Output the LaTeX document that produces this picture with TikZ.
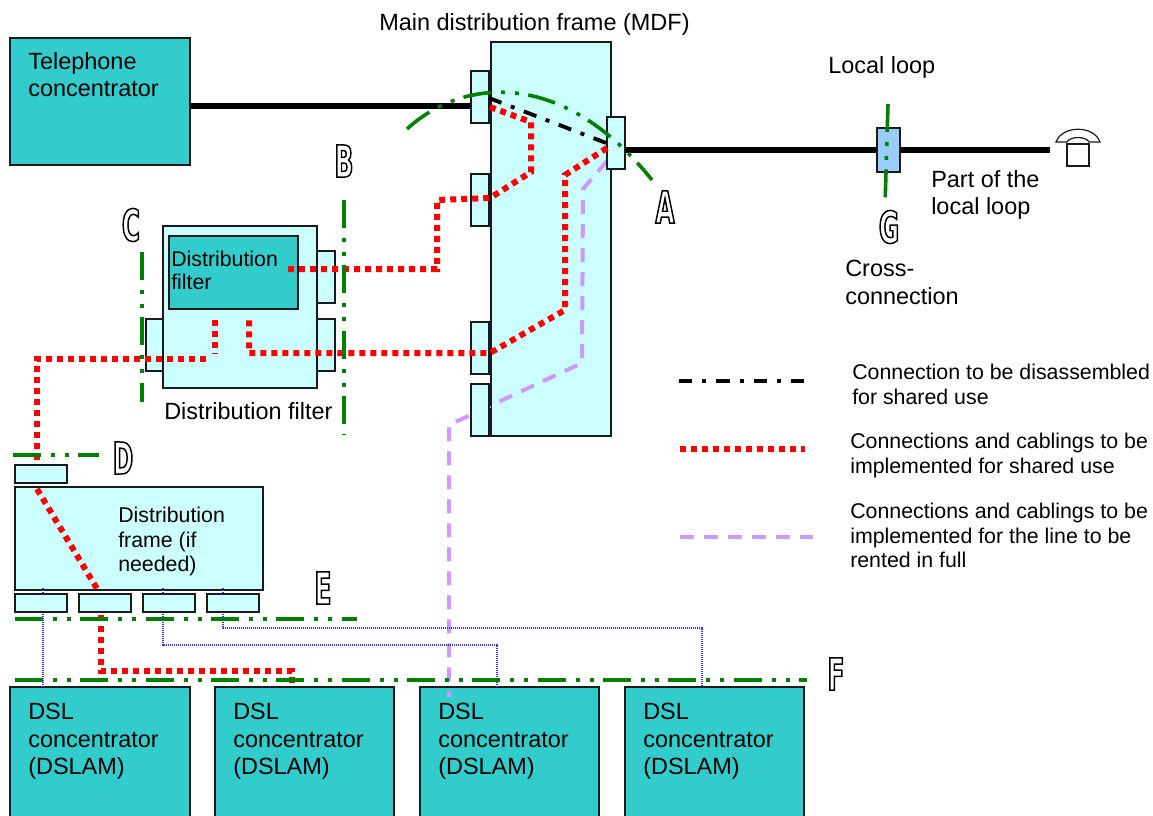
\documentclass[tikz,border=0pt]{standalone}
\usepackage{fontspec}
\setmainfont{Liberation Sans}
\newfontfamily\letterfont[FakeStretch=0.56]{DejaVu Sans}
\usetikzlibrary{positioning}
\definecolor{tealbox}{HTML}{33CCCC}
\definecolor{lightbox}{HTML}{CCFFFF}
\definecolor{crossbox}{HTML}{99CCFF}
\definecolor{cutgreen}{HTML}{008000}
\definecolor{rentpurple}{HTML}{CC99FF}
\definecolor{tapblue}{HTML}{3333FF}
\definecolor{edgegray}{HTML}{1A1A1A}
\newcommand{\outlined}[1]{\special{pdf:literal direct 1 Tr 1.1 w}#1\special{pdf:literal direct 0 Tr 1 w}}
\tikzset{
	box/.style n args={3}{%
		draw=edgegray, line width=1.2pt, fill=#1, inner sep=0pt,
		minimum width=#2*0.75pt,
		minimum height=#3*0.75pt
	},
	port/.style 2 args={box={lightbox}{#1}{#2}},
	bigtext/.style={anchor=north west, inner sep=0pt, align=left,
		font=\fontsize{17.6}{20.6}\selectfont},
	smalltext/.style={anchor=north west, inner sep=0pt, align=left,
		font=\fontsize{16}{18.4}\selectfont},
	cutletter/.style={inner sep=0pt, font=\letterfont\bfseries\fontsize{33}{33}\selectfont},
	heavyline/.style={line width=4.2pt, black},
	cutline/.style={line width=2.7pt, cutgreen,
		dash pattern=on 21pt off 7.5pt on 3pt off 7.5pt on 3pt off 7pt},
	removeline/.style={line width=2.9pt, black,
		dash pattern=on 10pt off 7.5pt on 3pt off 7.5pt},
	sharedline/.style={line width=4.5pt, red, line join=miter,
		dash pattern=on 4.5pt off 3.75pt},
	rentline/.style={line width=3pt, rentpurple,
		dash pattern=on 10.5pt off 7.5pt},
	tapline/.style={line width=0.8pt, tapblue,
		dash pattern=on 0.8pt off 0.7pt}
}
\begin{document}
\begin{tikzpicture}[x=0.75pt,y=-0.75pt]
	\useasboundingbox (0,0) rectangle (1153,815);

	% end points of the connectors
	\coordinate (loopend) at (1050,150);
	\coordinate (redtopa) at (490,107);
	\coordinate (redtopb) at (284,269);
	\coordinate (redmida) at (607,148);
	\coordinate (redmidb) at (249,320);
	\coordinate (redfila) at (215,320);
	\coordinate (redfilb) at (215,354);
	\coordinate (redleft) at (206,359);
	\coordinate (redfrmb) at (37,489);
	\coordinate (redfrmc) at (99,592);
	\coordinate (reddrop) at (101,615);
	\coordinate (rentend) at (607,161);
	\coordinate (tapa) at (43,588);
	\coordinate (tapb) at (163,588);
	\coordinate (tapc) at (223,588);
	\coordinate (dropa) at (43,687);
	\coordinate (dropb) at (497,687);
	\coordinate (dropc) at (702,687);
	\coordinate (rentlow) at (449,697);

	% big boxes
	\node[box={tealbox}{180}{127}] (telephone) at (100,101.5) {};
	\node[box={lightbox}{120}{394}] (mdf) at (551,239) {};
	\node[box={lightbox}{154}{162}] (filter) at (240,307) {};
	\node[box={tealbox}{129}{73}] (filterin) at (233.5,272.5) {};
	\node[box={lightbox}{248}{103}] (frame) at (139,538.5) {};
	\node[box={tealbox}{180}{133}] (dsla) at (100,753.5) {};
	\node[box={tealbox}{179}{133}] (dslb) at (304.5,753.5) {};
	\node[box={tealbox}{179}{133}] (dslc) at (509.5,753.5) {};
	\node[box={tealbox}{179}{133}] (dsld) at (714.5,753.5) {};

	% lines that go behind the ports
	\draw[heavyline] ([yshift=-3.4pt]telephone.east) -- (472,106);
	\draw[rentline] (rentend) -- (583,189) -- (582,363) -- (449,425) -- (rentlow);
	\draw[tapline] (tapa) -- (dropa);
	\draw[tapline] (tapb) |- (497,645) -- (dropb);
	\draw[tapline] (tapc) |- (702,628) -- (dropc);

	% ports
	\node[port={18}{52}] (mdfa) at (480,97) {};
	\node[port={18}{52}] (mdfb) at (480,200) {};
	\node[port={18}{52}] (mdfc) at (480,348) {};
	\node[port={18}{52}] (mdfd) at (480,410) {};
	\node[port={18}{52}] (mdfr) at (616,143) {};
	\node[port={18}{52}] (filra) at (326,277) {};
	\node[port={18}{52}] (filrb) at (326,345) {};
	\node[port={17}{52}] (fill) at (154.5,345) {};
	\node[port={52}{18}] (frmtop) at (41,474) {};
	\node[port={52}{18}] (frma) at (41,603) {};
	\node[port={52}{18}] (frmb) at (105,603) {};
	\node[port={52}{18}] (frmc) at (169,603) {};
	\node[port={52}{18}] (frmd) at (233,603) {};

	% local loop and telephone
	\draw[heavyline] ([yshift=-5.25pt]mdfr.east) -- (loopend);
	\node[box={crossbox}{23}{44}] (cross) at (888.5,150) {};
	\node[draw=edgegray, line width=0.9pt, fill=white, inner sep=0pt,
		minimum width=16.5pt, minimum height=16.5pt] (phone) at (1078,155) {};
	\draw[edgegray, line width=0.9pt, fill=white] (1056,142) .. controls (1062,125) and (1094,125) .. (1100,142)
		-- (1089,142) .. controls (1086,136) and (1070,136) .. (1067,142) -- cycle;

	% connections
	\draw[removeline] (489,98) -- (mdfr.west);
	\draw[sharedline] (redtopa) -- (531,122) -- (531,172) -- (490,198) -- (437,200) -- (437,269) -- (redtopb);
	\draw[sharedline] (redmida) -- (565,175) -- (565,310) -- (490,353) -- (249,353) -- (redmidb);
	\draw[sharedline] (redfila) -- (redfilb);
	\draw[sharedline] (redleft) -- (37,359) -- (frmtop.north -| redfrmb);
	\draw[sharedline] (redfrmb) -- (redfrmc);
	\draw[sharedline] (reddrop) -- (101,671) -- (292,671) -- (dslb.north -| 292,671);

	% cut lines
	\draw[cutline] (407,129) .. controls (460,80) and (560,65) .. (652,180);
	\draw[cutline] (888,104) -- (885,206);
	\draw[cutline] (344,200) -- (344,435);
	\draw[cutline] (142,252) -- (142,402);
	\draw[cutline] (13,455) -- (99,455);
	\draw[cutline] (15,619) -- (357,619);
	\draw[cutline] (15,680) -- (807,680);

	% legend
	\coordinate (keya) at (679,381);
	\coordinate (keyb) at (806,381);
	\coordinate (keyc) at (680,449);
	\coordinate (keyd) at (805,449);
	\coordinate (keye) at (680,537);
	\coordinate (keyf) at (813,537);
	\draw[removeline] (keya) -- (keyb);
	\draw[sharedline] (keyc) -- (keyd);
	\draw[rentline] (keye) -- (keyf);

	% texts
	\node[bigtext] (mdflabel) at (379,13) {Main distribution frame (MDF)};
	\node[bigtext] (telelabel) at (28,52) {Telephone\\concentrator};
	\node[bigtext] (looplabel) at (828,56) {Local loop};
	\node[bigtext] (partlabel) at (931,170) {Part of the\\local loop};
	\node[bigtext] (crosslabel) at (845,260) {Cross-\\connection};
	\node[bigtext] (filterlabel) at (164,402) {Distribution filter};
	\node[smalltext] (innerlabel) at (171,251) {Distribution\\[-1pt]filter};
	\node[smalltext] (framelabel) at (118,507) {Distribution\\frame (if\\needed)};
	\node[bigtext] (dsltexta) at (28,703) {DSL\\concentrator\\(DSLAM)};
	\node[bigtext] (dsltextb) at (233,703) {DSL\\concentrator\\(DSLAM)};
	\node[bigtext] (dsltextc) at (438,703) {DSL\\concentrator\\(DSLAM)};
	\node[bigtext] (dsltextd) at (643,703) {DSL\\concentrator\\(DSLAM)};
	\node[smalltext] (keytexta) at (852,364) {Connection to be disassembled\\for shared use};
	\node[smalltext] (keytextb) at (850,433) {Connections and cablings to be\\implemented for shared use};
	\node[smalltext] (keytextc) at (850,503) {Connections and cablings to be\\implemented for the line to be\\rented in full};

	% cut letters
	\node[cutletter] (lettera) at (665,207) {\outlined{A}};
	\node[cutletter] (letterb) at (344,161) {\outlined{B}};
	\node[cutletter] (letterc) at (131,225) {\outlined{C}};
	\node[cutletter] (letterd) at (123,458) {\outlined{D}};
	\node[cutletter] (lettere) at (323,588) {\outlined{E}};
	\node[cutletter] (letterf) at (836,674) {\outlined{F}};
	\node[cutletter] (letterg) at (889,227) {\outlined{G}};
\end{tikzpicture}
\end{document}
